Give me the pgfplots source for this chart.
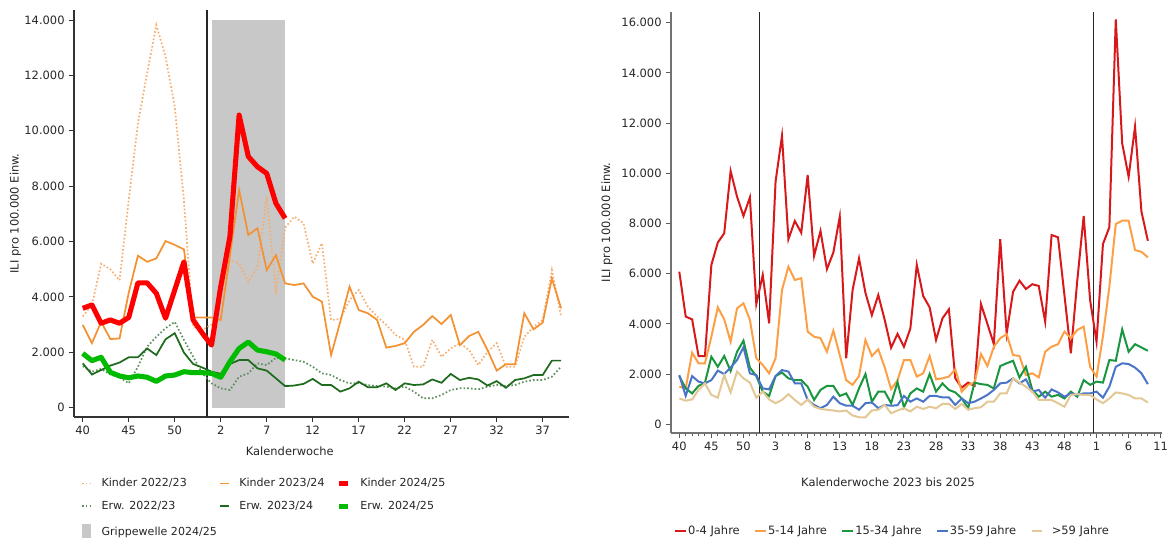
\documentclass[border=0pt]{standalone}
\usepackage{fontspec}
\setmainfont{DejaVu Sans}
\usepackage{pgfplots}
\usepackage{pgfplotstable}
\pgfplotsset{compat=1.18}

\definecolor{txt}{HTML}{262626}
\definecolor{kred}{HTML}{FF0000}
\definecolor{egreen}{HTML}{00BB00}
\definecolor{korange}{HTML}{F39232}
\definecolor{kdot}{HTML}{F5AE70}
\definecolor{edark}{HTML}{1E6B1E}
\definecolor{edot}{HTML}{5E8F5E}
\definecolor{grip}{HTML}{C8C8C8}
\definecolor{rred}{HTML}{D7191C}
\definecolor{rorange}{HTML}{FDA045}
\definecolor{rgreen}{HTML}{1A9641}
\definecolor{rblue}{HTML}{4A75C6}
\definecolor{rbeige}{HTML}{E3C896}

\pgfplotsset{
  lgline/.style={legend image code/.code={\draw[##1] (0pt,0pt) -- (7pt,0pt);}},
  lgrect/.style={legend image code/.code={\fill[##1] (0pt,-6pt) rectangle (6.5pt,6pt);}},
  rline/.style={legend image code/.code={\draw[##1] (0pt,0pt) -- (8pt,0pt);}},
  dotsty/.style={line width=1.3pt, dash pattern=on 1.2pt off 1.6pt},
}

\pgfplotstableread{
i kd22 ed22 k23 e23
0 3300 1500 2990 1600
1 3700 1300 2330 1200
2 5200 1400 3100 1360
3 5000 1200 2480 1520
4 4600 1100 2500 1630
5 7490 880 4150 1820
6 10270 1480 5490 1820
7 12080 2200 5270 2140
8 13820 2560 5390 1900
9 12680 2870 6020 2470
10 10870 3100 5880 2690
11 7490 2450 5720 1990
12 2920 1840 3260 1580
13 2800 1240 3260 1450
14 3000 880 3260 1300
15 4010 700 3170 1220
16 5330 640 5500 1580
17 5210 1120 7860 1720
18 4550 1240 6240 1720
19 5090 1600 6480 1420
20 7620 1540 4970 1340
21 4250 1800 5510 1060
22 6500 1780 4490 780
23 6900 1720 4430 800
24 6660 1660 4490 860
25 5210 1480 4010 1040
26 5940 1240 3830 820
27 3170 1180 1900 820
28 3200 1000 3110 580
29 3890 880 4370 700
30 4250 880 3530 940
31 3650 820 3410 740
32 3290 780 3170 740
33 2990 760 2170 880
34 2630 700 2230 640
35 2450 760 2330 880
36 1480 580 2740 820
37 1480 340 2990 840
38 2450 340 3310 1020
39 1840 460 3020 900
40 2140 640 3350 1220
41 2330 700 2260 1000
42 2080 700 2590 1080
43 1540 660 2740 1020
44 2020 760 2080 800
45 2330 820 1340 960
46 1480 780 1570 720
47 1480 820 1570 1000
48 2560 940 3410 1060
49 2920 1000 2830 1180
50 3170 1000 3070 1180
51 4970 1120 4670 1700
52 3290 1480 3590 1700
}\leftdata

\pgfplotstableread{
i k24 e24
0 3590 1960
1 3710 1700
2 3050 1820
3 3170 1280
4 3050 1145
5 3260 1080
6 4510 1145
7 4510 1100
8 4130 950
9 3230 1145
10 4250 1180
11 5270 1300
12 3170 1265
13 2690 1265
14 2260 1240
15 4370 1100
16 6180 1660
17 10570 2140
18 9070 2370
19 8700 2080
20 8460 2020
21 7380 1940
22 6840 1720
}\curdata

\pgfplotstableread{
i r o g b e
0 6080 1500 1920 1960 1030
1 4290 1430 1430 1130 940
2 4180 2850 1230 1920 990
3 2720 2430 1530 1700 1370
4 2720 2430 1660 1630 1630
5 6350 3490 2690 1760 1170
6 7240 4660 2290 2140 1060
7 7610 4180 2720 2000 1960
8 10090 3290 2120 2260 1270
9 9070 4620 2890 2560 2100
10 8300 4820 3330 3070 1830
11 9040 4160 2260 2030 1660
12 4790 2630 1920 1960 1060
13 5950 2360 1300 1430 1300
14 4020 2030 1130 1390 990
15 9670 2630 1920 1920 840
16 11490 5350 2060 2160 970
17 7370 6280 1830 2100 1200
18 8100 5750 1760 1630 970
19 7630 5820 1760 1630 770
20 9930 3690 1500 970 990
21 6710 3490 970 770 700
22 7700 3430 1370 640 610
23 6180 2890 1530 770 580
24 6840 3730 1530 1100 550
25 8270 2760 1130 840 510
26 2630 1760 1230 740 550
27 5350 1570 770 740 350
28 6610 1920 1430 580 280
29 5240 3360 2000 840 280
30 4350 2720 900 870 550
31 5150 2990 1300 640 580
32 4160 2270 1300 770 770
33 3050 1400 840 740 440
34 3600 1750 1680 760 550
35 3090 2560 680 1130 640
36 3820 2560 1230 900 510
37 6350 1900 1430 1030 700
38 5110 2030 1300 900 610
39 4660 2720 2000 1130 700
40 3360 1790 1300 1130 640
41 4220 1830 1630 1070 810
42 4580 1900 1370 1070 810
43 1830 2190 1270 770 610
44 1460 1300 1030 1030 810
45 1660 1570 640 840 580
46 1530 1660 1660 900 640
47 4790 2800 1600 1030 680
48 4000 2320 1570 1170 900
49 3200 3090 1430 1370 900
50 7370 3430 2320 1630 1230
51 3620 3590 2430 1660 1230
52 5280 2760 2530 1830 1830
53 5720 2720 1860 1630 1660
54 5390 1960 2290 1790 1500
55 5580 2030 1370 1300 1300
56 5510 1870 1100 1370 970
57 4090 2890 1300 1060 970
58 7540 3090 1100 1390 970
59 7450 3190 1170 1270 840
60 5150 3690 1030 1100 700
61 2830 3430 1300 1230 1170
62 5720 3760 1100 1170 1200
63 8300 3890 1760 1230 1170
64 4950 2290 1570 1230 1170
65 3290 1900 1700 1300 990
66 7180 3500 1660 1060 840
67 7850 5480 2560 1500 1030
68 16130 7980 2530 2290 1270
69 11190 8110 3780 2430 1230
70 9860 8110 2890 2400 1170
71 11860 6940 3190 2260 1030
72 8470 6870 3060 2030 1030
73 7310 6650 2930 1600 870
}\rightdata

\begin{document}
\fontsize{8.6}{10.3}\selectfont
\begin{tikzpicture}
\path[use as bounding box] (0pt,0pt) rectangle (876pt,-403.5pt);

% ---------------- left chart ----------------
\begin{axis}[
  at={(55.5pt,-312.75pt)}, anchor=south west,
  scale only axis, width=371.25pt, height=305.25pt,
  xmin=-0.95, xmax=52.86, ymin=-336, ymax=14363,
  axis x line*=bottom, axis y line*=left,
  axis line style={draw=black!80, line width=0.8pt},
  every tick/.style={black!80, line width=0.8pt},
  tick align=outside, major tick length=4pt,
  xtick={0,5,...,50}, xticklabels={40,45,50,2,7,12,17,22,27,32,37},
  ytick={0,2000,...,14000},
  yticklabels={0,2.000,4.000,6.000,8.000,10.000,12.000,14.000},
  ticklabel style={font=\fontsize{8.6}{10.3}\selectfont, text=txt},
  xlabel={Kalenderwoche}, ylabel={ILI pro 100.000 Einw.},
  label style={font=\fontsize{8.6}{10.3}\selectfont, text=txt},
  xlabel style={at={(axis description cs:0.436,0)}, anchor=center, yshift=-25.3pt},
  ylabel style={at={(axis description cs:0,0.5)}, anchor=center, yshift=43.9pt},
  legend columns=3,
  legend cell align=left,
  legend style={at={(axis description cs:0.014,-0.1500)}, anchor=north west,
    draw=none, fill=none, inner sep=0pt, row sep=9.6pt,
    font=\fontsize{8.3}{10}\selectfont, text=txt,
    nodes={inner xsep=1pt, inner ysep=0pt},
    /tikz/every odd column/.append style={column sep=6pt},
    /tikz/column 2/.style={column sep=0.5pt},
    /tikz/column 4/.style={column sep=8pt}},
]
\addplot[fill=grip, draw=none, forget plot] coordinates {(14,14000) (22,14000)} \closedcycle;
\addplot[black!85, line width=1pt, forget plot] coordinates {(13.5,-336) (13.5,14363)};
\addplot[kdot, dotsty, forget plot] table[x=i, y=kd22] {\leftdata};
\addplot[edot, dotsty, forget plot] table[x=i, y=ed22] {\leftdata};
\addplot[korange, line width=1.3pt, forget plot] table[x=i, y=k23] {\leftdata};
\addplot[edark, line width=1.3pt, forget plot] table[x=i, y=e23] {\leftdata};
\addplot[kred, line width=3.8pt, line join=round, forget plot] table[x=i, y=k24] {\curdata};
\addplot[egreen, line width=3.8pt, line join=round, forget plot] table[x=i, y=e24] {\curdata};

\addlegendimage{lgline, kdot, dotsty}
\addlegendentry{Kinder 2022/23}
\addlegendimage{lgline, korange, line width=1.3pt}
\addlegendentry{Kinder 2023/24}
\addlegendimage{lgline, kred, line width=3.8pt}
\addlegendentry{Kinder 2024/25}
\addlegendimage{lgline, edot, dotsty}
\addlegendentry{Erw. 2022/23}
\addlegendimage{lgline, edark, line width=1.3pt}
\addlegendentry{Erw. 2023/24}
\addlegendimage{lgline, egreen, line width=3.8pt}
\addlegendentry{Erw. 2024/25}
\addlegendimage{lgrect, grip}
\addlegendentry{Grippewelle 2024/25}
\end{axis}

% ---------------- right chart ----------------
\begin{axis}[
  at={(503.25pt,-324.75pt)}, anchor=south west,
  scale only axis, width=368.25pt, height=316pt,
  xmin=-1.29, xmax=75.2, ymin=-347, ymax=16438,
  axis x line*=bottom, axis y line*=left,
  axis line style={draw=black!55, line width=0.8pt},
  every tick/.style={black!65, line width=0.7pt},
  tick align=outside, major tick length=4pt, minor tick length=2.3pt,
  xtick={0,5,...,75},
  xticklabels={40,45,50,3,8,13,18,23,28,33,38,43,48,1,6,11},
  minor x tick num=4,
  ytick={0,2000,...,16000},
  yticklabels={0,2.000,4.000,6.000,8.000,10.000,12.000,14.000,16.000},
  ticklabel style={font=\fontsize{8.6}{10.3}\selectfont, text=txt},
  xlabel={Kalenderwoche 2023 bis 2025}, ylabel={ILI pro 100.000 Einw.},
  label style={font=\fontsize{8.6}{10.3}\selectfont, text=txt},
  xlabel style={at={(axis description cs:0.442,0)}, anchor=center, yshift=-36.75pt},
  ylabel style={at={(axis description cs:0,0.5)}, anchor=center, yshift=48pt},
  legend columns=5,
  legend cell align=left,
  legend style={at={(axis description cs:0.006,-0.232)}, anchor=west,
    draw=none, fill=none, inner sep=0pt,
    font=\fontsize{8.6}{10.3}\selectfont, text=txt,
    nodes={inner xsep=0.5pt, inner ysep=0pt},
    /tikz/every odd column/.append style={column sep=0.5pt},
    /tikz/every even column/.append style={column sep=10.3pt}},
]
\addplot[black!85, line width=1pt, forget plot] coordinates {(12.5,-347) (12.5,16438)};
\addplot[black!85, line width=1pt, forget plot] coordinates {(64.5,-347) (64.5,16438)};
\addplot[rred, line width=1.5pt, rline] table[x=i, y=r] {\rightdata};
\addlegendentry{0-4 Jahre}
\addplot[rorange, line width=1.5pt, rline] table[x=i, y=o] {\rightdata};
\addlegendentry{5-14 Jahre}
\addplot[rgreen, line width=1.5pt, rline] table[x=i, y=g] {\rightdata};
\addlegendentry{15-34 Jahre}
\addplot[rblue, line width=1.5pt, rline] table[x=i, y=b] {\rightdata};
\addlegendentry{35-59 Jahre}
\addplot[rbeige, line width=1.5pt, rline] table[x=i, y=e] {\rightdata};
\addlegendentry{\ \ >59 Jahre}
\end{axis}
\end{tikzpicture}
\end{document}
